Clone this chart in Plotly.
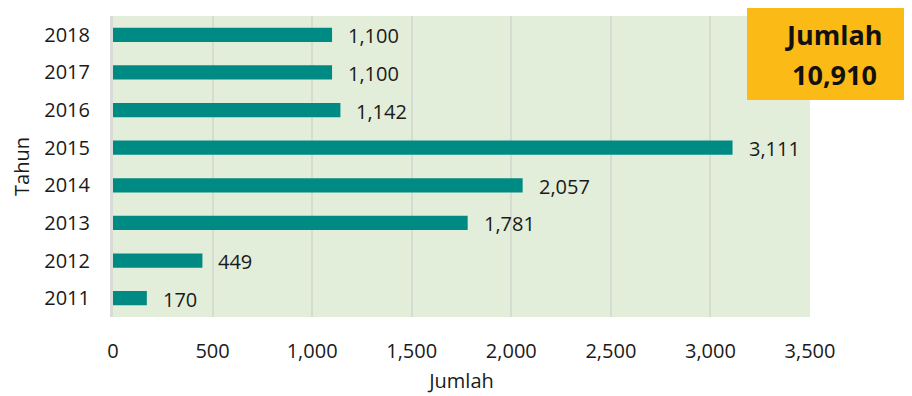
import plotly.graph_objects as go

years = ["2011", "2012", "2013", "2014", "2015", "2016", "2017", "2018"]
values = [170, 449, 1781, 2057, 3111, 1142, 1100, 1100]
labels = ["170", "449", "1,781", "2,057", "3,111", "1,142", "1,100", "1,100"]
x_ticks = [0, 500, 1000, 1500, 2000, 2500, 3000, 3500]
x_tick_text = ["0", "500", "1,000", "1,500", "2,000", "2,500", "3,000", "3,500"]
total_title = "Jumlah"
total_value = "10,910"

FONT = "Open Sans"
OFF = 8  # page body margin

L, T = 113 - OFF, 16 - OFF
PW, PH = 697, 301
W, H = 912, 396
R = W - L - PW
B = H - T - PH

fig = go.Figure(go.Bar(
    x=values, y=years, orientation="h",
    marker=dict(color="#008A84", line=dict(width=0)),
    width=0.38,
    hoverinfo="x+y",
))

for i, (v, lab) in enumerate(zip(values, labels)):
    fig.add_annotation(x=v, y=i, xref="x", yref="y", text=lab, showarrow=False,
                       xanchor="left", yanchor="middle", xshift=14, yshift=-1,
                       font=dict(family=FONT, size=20, color="#1a1a1a"))

fig.update_layout(
    width=W, height=H,
    margin=dict(l=L, r=R, t=T, b=B, autoexpand=False),
    paper_bgcolor="white",
    plot_bgcolor="#E2EED9",
    font=dict(family=FONT, size=20, color="#1a1a1a"),
    showlegend=False,
    xaxis=dict(
        range=[0, 3500], tickvals=x_ticks, ticktext=x_tick_text,
        showgrid=True, gridcolor="#D7DCD2", gridwidth=2,
        zeroline=False, showline=False,
        ticks="outside", ticklen=16, tickcolor="rgba(0,0,0,0)",
        title=dict(text="Jumlah", font=dict(family=FONT, size=20), standoff=10),
        automargin=False,
    ),
    yaxis=dict(
        range=[-0.5, 7.5], type="category",
        showgrid=False, zeroline=False,
        showline=True, linecolor="#D9DBD6", linewidth=3,
        ticks="outside", ticklen=16, tickcolor="rgba(0,0,0,0)",
        title=dict(text="Tahun", font=dict(family=FONT, size=20), standoff=16),
        automargin=False,
    ),
)

fig.add_shape(type="rect", xref="paper", yref="paper",
              x0=(747 - 113) / PW, x1=(912 - 113) / PW,
              y0=(317 - 100) / PH, y1=(317 - 5) / PH,
              fillcolor="#FBBA16", line=dict(width=0), layer="above")
fig.add_annotation(xref="paper", yref="paper",
                   x=(834 - 113) / PW, y=(317 - 35) / PH,
                   text="<b>" + total_title + "</b>", showarrow=False,
                   font=dict(family=FONT, size=27, color="#111111"),
                   xanchor="center", yanchor="middle")
fig.add_annotation(xref="paper", yref="paper",
                   x=(834 - 113) / PW, y=(317 - 75) / PH,
                   text="<b>" + total_value + "</b>", showarrow=False,
                   font=dict(family=FONT, size=27, color="#111111"),
                   xanchor="center", yanchor="middle")

fig.write_html("out.html")
